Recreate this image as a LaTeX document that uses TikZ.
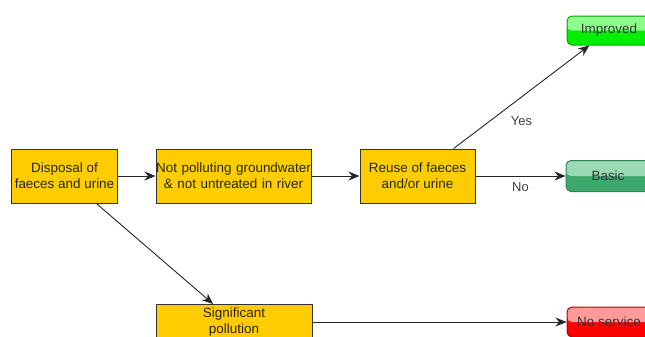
\documentclass[tikz,border=0pt]{standalone}
\usepackage{fontspec}
\setmainfont{Liberation Sans}
\usetikzlibrary{positioning,arrows.meta}

\definecolor{boxyellow}{HTML}{FFCC00}
\definecolor{basicdark}{HTML}{3DA86C}
\definecolor{basiclight}{HTML}{9ADBB4}
\definecolor{impdark}{HTML}{00EE00}
\definecolor{implight}{HTML}{8CFF8C}
\definecolor{nodark}{HTML}{FF0000}
\definecolor{nolight}{HTML}{FF9A9A}

\tikzset{
  stage/.style={draw=black!80, fill=boxyellow, line width=1bp,
    minimum height=54bp, inner xsep=0pt, align=center, text=black!85,
    font=\fontsize{13.5}{16}\selectfont},
  outcome/.style n args={3}{draw=#1, fill=#2, line width=1bp,
    rounded corners=5bp, minimum width=84bp, minimum height=30bp,
    text=black!80, font=\fontsize{13.5}{16}\selectfont,
    path picture={\fill[#3] (path picture bounding box.north west)
      rectangle (path picture bounding box.east);}},
  flow/.style={-{Stealth[length=11bp,width=9bp,inset=3.5bp]}, line width=0.9bp, black!85},
  answer/.style={text=black!75, font=\fontsize{13}{15}\selectfont}
}

\begin{document}
\begin{tikzpicture}[x=1bp, y=-1bp]
  \useasboundingbox (0,0) rectangle (645,336);

  \node[stage, minimum width=105bp] (disposal) at (64.5,176)
    {Disposal of\\faeces and urine};

  \node[stage,
  right= 38bp of disposal,
  text width=155bp] (notpolluting)
    {Not polluting groundwater\\\& not untreated in river};

  \node[stage,
  right= 48bp of notpolluting,
  minimum width=115bp] (reuse) {Reuse of faeces\\and/or urine};

  \node[outcome={basicdark!80!black}{basicdark}{basiclight},
  right= 90bp of reuse, minimum height=31bp] (basic) {Basic};

  \node[outcome={impdark!70!black}{impdark}{implight},
  minimum height=29bp] (improved) at (609,30.5) {Improved};

  \node[stage, minimum width=156bp, minimum height=34bp] (pollution)
    at (234,322) {Significant\\pollution};

  \node[outcome={nodark!75!black}{nodark}{nolight}] (noservice)
    at (609,322) {No service};

  \draw[flow] (disposal) -- (notpolluting);
  \draw[flow] (notpolluting) -- (reuse);
  \draw[flow] (reuse) -- node[answer, midway, below=3bp] {No} (basic);
  \draw[flow] (reuse) -- node[answer, midway, below=16bp] {Yes} (improved);
  \draw[flow] (disposal) -- (pollution);
  \draw[flow] (pollution) -- (noservice);
\end{tikzpicture}
\end{document}
